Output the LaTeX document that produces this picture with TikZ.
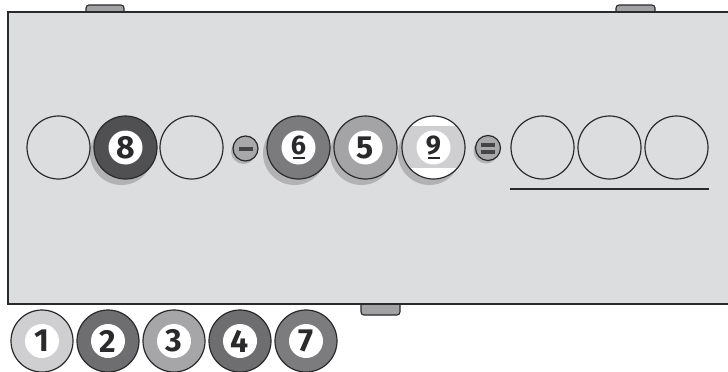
\documentclass[tikz,border=0pt]{standalone}
\usepackage{fontspec}
\newfontfamily\ballfont{Fira Sans}
\definecolor{tablefill}{HTML}{DCDDDF}
\definecolor{edge}{HTML}{2A2A2C}
\definecolor{shadowc}{HTML}{B2B2B4}
\definecolor{bumpc}{HTML}{A2A2A4}
\definecolor{bLight}{HTML}{CFCFD1}
\definecolor{bDark}{HTML}{6E6E70}
\definecolor{bMid}{HTML}{A6A6A8}
\definecolor{bSeven}{HTML}{7C7C7E}
\definecolor{bEight}{HTML}{505052}
\definecolor{bSix}{HTML}{7B7B7D}
\definecolor{bFive}{HTML}{A4A4A6}
\definecolor{stripec}{HTML}{CFCFD1}
\definecolor{opgray}{HTML}{A8A8AA}
\definecolor{bardark}{HTML}{454547}
\tikzset{
  ballshape/.style={circle, draw=edge, line width=1.2pt, minimum size=63pt, inner sep=0pt},
  ballshadow/.style={circle, fill=shadowc, minimum size=63pt, inner sep=0pt},
  numdisc/.style={circle, fill=white, minimum size=34pt, inner sep=0pt, text=edge,
    font=\ballfont\bfseries\fontsize{32}{32}\selectfont},
  smalldigit/.style={font=\ballfont\bfseries\fontsize{27}{27}\selectfont},
  opdisc/.style={circle, draw=edge, fill=opgray, line width=1.2pt, minimum size=25pt, inner sep=0pt},
  opshadow/.style={circle, fill=shadowc, minimum size=25pt, inner sep=0pt},
  opbar/.style={fill=bardark, minimum width=14pt, minimum height=4pt, inner sep=0pt},
  tabledraw/.style={fill=tablefill, draw=edge, line width=1.2pt},
  bumpdraw/.style={fill=bumpc, draw=edge, line width=1.1pt, rounded corners=3pt},
  uline/.style={fill=edge},
  baseline rule/.style={draw=edge, line width=1.6pt}
}
\begin{document}
\begin{tikzpicture}[x=1pt,y=-1pt]
\useasboundingbox (0,0) rectangle (728,372);
% bumps
\draw[bumpdraw] (86,14) -- (86,5) -- (124,5) -- (124,14);
\draw[bumpdraw] (616,14) -- (616,5) -- (655,5) -- (655,14);
\draw[bumpdraw] (361,302) -- (361,315) -- (400,315) -- (400,302);
% table
\path[tabledraw] (8,12) rectangle (732,304);
% shadows
\node[ballshadow] at (121.5,153.5) {};
\node[ballshadow] at (294.5,153.5) {};
\node[ballshadow] at (361.5,153.5) {};
\node[ballshadow] at (429.5,153.5) {};
\node[opshadow] at (243.5,151.5) {};
\node[opshadow] at (486,151) {};
% row
\node[ballshape] (e1) at (58.5,147.5) {};
\node[ballshape, fill=bEight] (b8) at (125.5,147.5) {};
\node[numdisc] (n8) at (b8) {8};
\node[ballshape] (e2) at (191.5,147.5) {};
\node[opdisc] (minus) at (245.5,148.5) {};
\node[opbar] (minusbar) at (minus) {};
\node[ballshape, fill=bSix] (b6) at (298.5,147.5) {};
\node[numdisc] (n6) at (b6) {};
\node[smalldigit, text=edge, inner sep=0pt] (t6) at (298.5,145.5) {6};
\fill[uline] (292.5,157) rectangle (304.5,159.4);
\node[ballshape, fill=bFive] (b5) at (365.5,147.5) {};
\node[numdisc] (n5) at (b5) {5};
\begin{scope}
  \clip (433.5,147.5) circle (31.5);
  \fill[white] (400,114) rectangle (467,181);
  \fill[stripec] (400,126) rectangle (467,168);
\end{scope}
\node[ballshape] (b9) at (433.5,147.5) {};
\node[numdisc] (n9) at (b9) {};
\node[smalldigit, text=edge, inner sep=0pt] (t9) at (433.5,145.5) {9};
\fill[uline] (427.5,157) rectangle (439.5,159.4);
\node[opdisc] (equals) at (488,148) {};
\node[opbar] (eqtop) at (488,145) {};
\node[opbar] (eqbot) at (488,151.5) {};
\node[ballshape] (r1) at (542.5,147.5) {};
\node[ballshape] (r2) at (609.5,147.5) {};
\node[ballshape] (r3) at (676.5,147.5) {};
\draw[baseline rule] (r1.west |- 0,189) -- (r3.east |- 0,189);
% bottom balls
\node[ballshape, fill=bLight, minimum size=62pt] (c1) at (42,341) {};
\node[numdisc] at (c1) {1};
\node[ballshape, fill=bDark, minimum size=62pt] (c2) at (108,341) {};
\node[numdisc] at (c2) {2};
\node[ballshape, fill=bMid, minimum size=62pt] (c3) at (174,341) {};
\node[numdisc] at (c3) {3};
\node[ballshape, fill=bDark, minimum size=62pt] (c4) at (240,341) {};
\node[numdisc] at (c4) {4};
\node[ballshape, fill=bSeven, minimum size=62pt] (c7) at (306,341) {};
\node[numdisc] at (c7) {7};
\end{tikzpicture}
\end{document}
